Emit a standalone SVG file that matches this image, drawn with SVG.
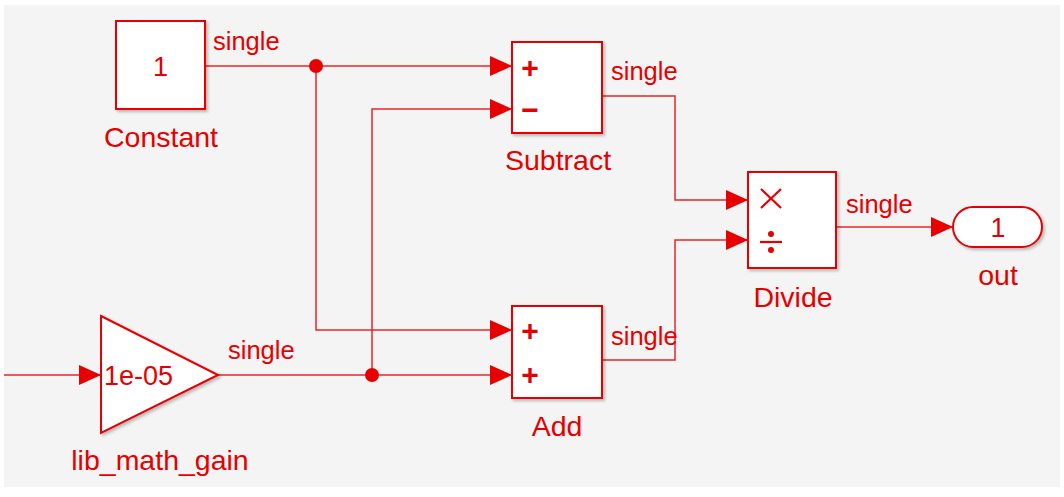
<svg xmlns="http://www.w3.org/2000/svg" width="1064" height="497" viewBox="0 0 1064 497">
<style>
.blk{fill:#fff;stroke:#e60000;stroke-width:2}
.ln{fill:none;stroke:#e8262a;stroke-width:1.5}
.t{font-family:"Liberation Sans",Arial,sans-serif;fill:#e60000}
.lbl{font-size:28.5px;text-anchor:middle}
.sig{font-size:25.5px}
.sym{font-size:27px}
.pm{font-size:30px;text-anchor:middle;font-weight:bold}
</style>
<defs>
<marker id="arr" viewBox="0 0 22 20" refX="22" refY="10" markerWidth="22" markerHeight="20" markerUnits="userSpaceOnUse" orient="auto">
<path d="M0,0 L22,10 L0,20 Z" fill="#e60000"/>
</marker>
<filter id="sh" x="-10%" y="-10%" width="130%" height="130%">
<feDropShadow dx="2" dy="2" stdDeviation="1.5" flood-color="#000" flood-opacity="0.25"/>
</filter>
</defs>
<rect x="0" y="0" width="1064" height="497" fill="#fff"/>
<rect x="4" y="5" width="1056" height="482" fill="#f4f4f4"/>
<g id="connectors">
<path class="ln" d="M205,66 H512" marker-end="url(#arr)"/>
<path class="ln" d="M316,66 V330 H512" marker-end="url(#arr)"/>
<path class="ln" d="M4,375 H101" marker-end="url(#arr)"/>
<path class="ln" d="M218,375 H512" marker-end="url(#arr)"/>
<path class="ln" d="M372,375 V109 H512" marker-end="url(#arr)"/>
<path class="ln" d="M602,96 H675 V200 H748" marker-end="url(#arr)"/>
<path class="ln" d="M602,360 H675 V240 H748" marker-end="url(#arr)"/>
<path class="ln" d="M836,227 H953" marker-end="url(#arr)"/>
<circle cx="316" cy="66" r="7" fill="#e60000"/>
<circle cx="372" cy="375" r="7" fill="#e60000"/>
<text class="t sig" x="213" y="50">single</text>
<text class="t sig" x="228" y="359">single</text>
<text class="t sig" x="611" y="80">single</text>
<text class="t sig" x="611" y="345">single</text>
<text class="t sig" x="846" y="213">single</text>
</g>
<g id="constant">
<rect class="blk" x="116" y="21" width="89" height="88" filter="url(#sh)"/>
<text class="t sym" x="160.5" y="76" text-anchor="middle">1</text>
<text class="t lbl" x="161" y="147">Constant</text>
</g>
<g id="subtract">
<rect class="blk" x="512" y="42" width="90" height="91" filter="url(#sh)"/>
<text class="t pm" x="530" y="78">+</text>
<text class="t pm" x="530" y="120">−</text>
<text class="t lbl" x="558" y="170">Subtract</text>
</g>
<g id="add">
<rect class="blk" x="512" y="306" width="90" height="92" filter="url(#sh)"/>
<text class="t pm" x="530" y="341">+</text>
<text class="t pm" x="530" y="385">+</text>
<text class="t lbl" x="557" y="436">Add</text>
</g>
<g id="divide">
<rect class="blk" x="748" y="172" width="88" height="96" filter="url(#sh)"/>
<path d="M761,189 L781,208 M781,189 L761,208" stroke="#e60000" stroke-width="2.2" fill="none"/>
<circle cx="771" cy="234" r="3" fill="#e60000"/>
<circle cx="771" cy="250" r="3" fill="#e60000"/>
<path d="M760,242 H782" stroke="#e60000" stroke-width="2.2"/>
<text class="t lbl" x="793" y="307">Divide</text>
</g>
<g id="out">
<rect class="blk" x="953" y="207" width="89" height="40" rx="20" ry="20" filter="url(#sh)"/>
<text class="t sym" x="998" y="237" text-anchor="middle">1</text>
<text class="t lbl" x="998" y="285">out</text>
</g>
<g id="lib_math_gain">
<path class="blk" d="M101,316 L218,375 L101,433 Z" filter="url(#sh)"/>
<text class="t" x="104" y="385" font-size="27">1e-05</text>
<text class="t lbl" x="160" y="470">lib_math_gain</text>
</g>
</svg>
